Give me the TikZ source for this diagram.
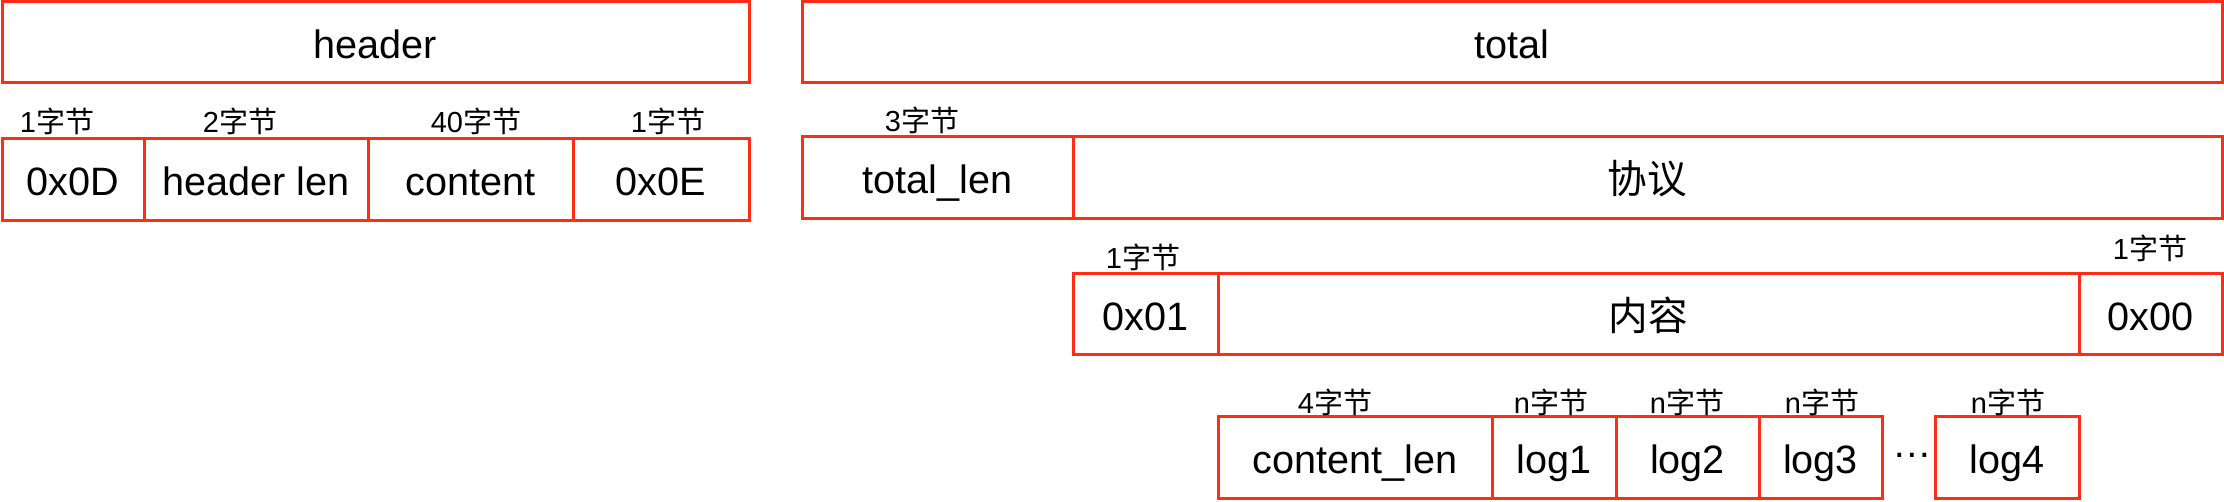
\documentclass[tikz,border=0pt]{standalone}
\usepackage{fontspec}
\setmainfont{Liberation Sans}
\newfontfamily\cjk{Noto Sans CJK SC}
\definecolor{redc}{RGB}{255,45,18}
\newcommand\bx[6]{\node[box, minimum width={(#4-#2)*0.5pt}, minimum height={(#5-#3)*0.5pt}] (#1) at ({(#2+#4)/2},{(#3+#5)/2}) {#6};}
\begin{document}
\begin{tikzpicture}[x=0.5pt,y=-0.5pt,
  box/.style={draw=redc, line width=1.5pt, inner sep=0pt, outer sep=0pt, rectangle,
    font=\fontsize{19.8}{22}\selectfont, text height=16.8pt, text depth=0.9pt},
  lbl/.style={inner sep=0pt, font=\fontsize{14.5}{16}\selectfont},
  dotsty/.style={inner sep=0pt, font=\fontsize{19.8}{22}\selectfont}]
\useasboundingbox (0,0) rectangle (2224,502);
% row 1
\bx{header}{2}{2}{749}{83}{header}
\bx{total}{802}{2}{2222}{83}{total}
% row 2 left
\bx{d0D}{2}{139}{144}{221}{0x0D}
\bx{hlen}{144}{139}{368}{221}{header len}
\bx{cont}{368}{139}{573}{221}{content}
\bx{d0E}{573}{139}{749}{221}{0x0E}
% row 2 right
\bx{tlen}{802}{137}{1073}{219}{total\_len}
\bx{proto}{1073}{137}{2222}{219}{\cjk{协议}}
% row 3
\bx{d01}{1073}{274}{1218}{355}{0x01}
\bx{neirong}{1218}{274}{2079}{355}{\cjk{内容}}
\bx{d00}{2079}{274}{2222}{355}{0x00}
% row 4
\bx{clen}{1218}{417}{1492}{498}{content\_len}
\bx{logA}{1492}{417}{1616}{498}{log1}
\bx{logB}{1616}{417}{1759}{498}{log2}
\bx{logC}{1759}{417}{1882}{498}{log3}
\bx{logD}{1935}{417}{2079}{498}{log4}
\node[dotsty] (dots) at (1912,455) {…};
% labels
\node[lbl] (la) at (57,121) {1\cjk{字节}};
\node[lbl] (lb) at (240,121) {2\cjk{字节}};
\node[lbl] (lc) at (476,121) {40\cjk{字节}};
\node[lbl] (ld) at (668,121) {1\cjk{字节}};
\node[lbl] (le) at (922,120) {3\cjk{字节}};
\node[lbl] (lf) at (1143,257) {1\cjk{字节}};
\node[lbl] (lg) at (2150,248) {1\cjk{字节}};
\node[lbl] (lh) at (1335,402) {4\cjk{字节}};
\node[lbl] (li) at (1551,402) {n\cjk{字节}};
\node[lbl] (lj) at (1687,402) {n\cjk{字节}};
\node[lbl] (lk) at (1822,402) {n\cjk{字节}};
\node[lbl] (ll) at (2008,402) {n\cjk{字节}};
\end{tikzpicture}
\end{document}
